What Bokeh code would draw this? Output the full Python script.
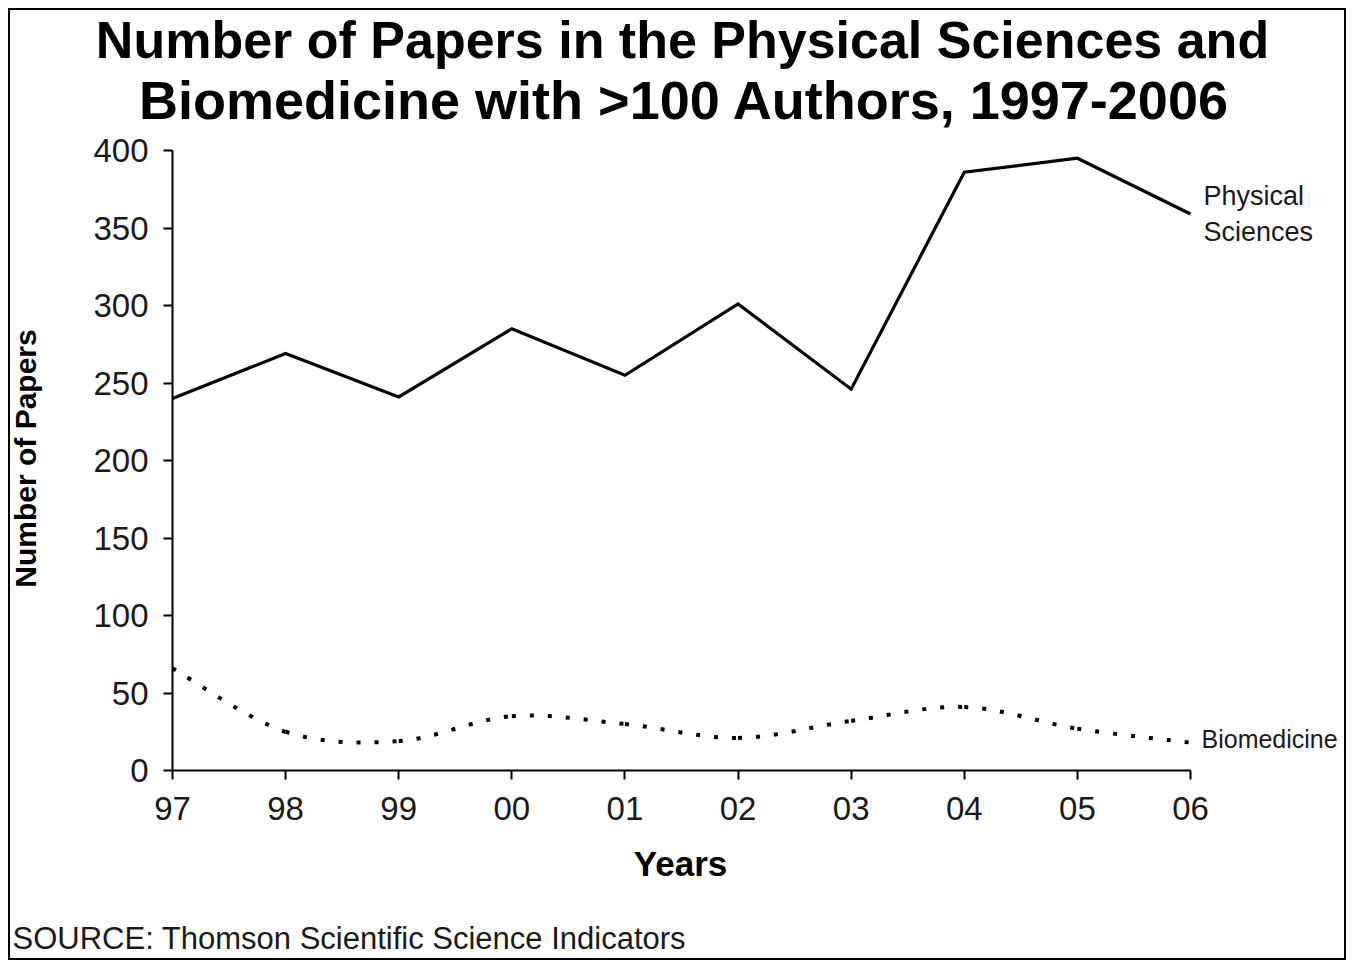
import math
import numpy as np
from bokeh.plotting import figure
from bokeh.models import Range1d, FixedTicker, Label
from bokeh.core.properties import value
from bokeh.embed import file_html
from bokeh.resources import INLINE

# ---- data ----
years = [1997, 1998, 1999, 2000, 2001, 2002, 2003, 2004, 2005, 2006]
year_labels = ["97", "98", "99", "00", "01", "02", "03", "04", "05", "06"]
physical = [240, 269, 241, 285, 255, 301, 246, 386, 395, 359]
biomedicine = [66, 25, 19, 35, 30, 21, 32, 41, 27, 18]
y_ticks = [0, 50, 100, 150, 200, 250, 300, 350, 400]

title_line1 = "Number of Papers in the Physical Sciences and"
title_line2 = "Biomedicine with >100 Authors, 1997-2006"
source_text = "SOURCE: Thomson Scientific Science Indicators"
x_title = "Years"
y_title = "Number of Papers"

FONT = "Liberation Sans"
TXT = "#1a1a1a"

# ---- layout geometry (page pixels) ----
CANVAS_X0, CANVAS_Y0 = 10, 10          # canvas origin on the page (inside the 2px frame)
CW, CH = 1338, 952                     # figure size (canvas drawn at this size)
AX_X, AX_Y = 172, 770                  # page position of (1997, 0)
PX_YEAR = (1190 - 172) / 9.0           # pixels per year
PX_UNIT = (770 - 150) / 400.0          # pixels per paper


def dx(px):
    return years[0] + (px - AX_X) / PX_YEAR


def dy(py):
    return (AX_Y - py) / PX_UNIT


p = figure(width=CW, height=CH, output_backend="svg", toolbar_location=None, title=None,
           x_range=Range1d(dx(CANVAS_X0), dx(CANVAS_X0 + CW)),
           y_range=Range1d(dy(CANVAS_Y0 + CH), dy(CANVAS_Y0)),
           min_border_left=0, min_border_right=0, min_border_top=0, min_border_bottom=0,
           styles={"border": "2px solid black", "margin-left": "8px", "margin-top": "8px"})
p.outline_line_color = None
p.grid.visible = False
p.background_fill_color = "white"
p.border_fill_color = "white"

# axes drawn at fixed data locations inside the full-canvas frame
for ax in (p.xaxis[0], p.yaxis[0]):
    ax.axis_line_width = 2
    ax.axis_line_color = "black"
    ax.major_tick_line_width = 2
    ax.major_tick_line_color = "black"
    ax.major_tick_out = 9
    ax.major_tick_in = 0
    ax.minor_tick_line_color = None
    ax.major_label_text_font = FONT
    ax.major_label_text_color = TXT
    ax.major_label_text_font_size = "33px"

p.xaxis.fixed_location = 0
p.xaxis.bounds = (years[0], years[-1])
p.xaxis.ticker = FixedTicker(ticks=years)
p.xaxis.major_label_overrides = {y: l for y, l in zip(years, year_labels)}
p.xaxis.major_label_standoff = 17

p.yaxis.fixed_location = years[0]
p.yaxis.bounds = (0, 400)
p.yaxis.ticker = FixedTicker(ticks=y_ticks)
p.yaxis.major_label_standoff = 15

# physical sciences: solid line
p.line(years, physical, line_color="black", line_width=3.2, line_join="miter")

# biomedicine: smooth dotted curve through the data points (Catmull-Rom beziers)
bx = np.array(years, dtype=float)
by = np.array(biomedicine, dtype=float)
px_ = np.concatenate([[bx[0]], bx, [bx[-1]]])
py_ = np.concatenate([[by[0]], by, [by[-1]]])
x0, y0 = bx[:-1], by[:-1]
x1, y1 = bx[1:], by[1:]
cx0 = x0 + (px_[2:-1] - px_[:-3]) / 6.0
cy0 = y0 + (py_[2:-1] - py_[:-3]) / 6.0
cx1 = x1 - (px_[3:] - px_[1:-2]) / 6.0
cy1 = y1 - (py_[3:] - py_[1:-2]) / 6.0
p.bezier(x0=x0, y0=y0, x1=x1, y1=y1, cx0=cx0, cy0=cy0, cx1=cx1, cy1=cy1,
         line_color="black", line_width=4, line_dash="4 14")

# series labels
p.text(x=[years[-1]], y=[physical[-1]], text=["Physical\nSciences"],
       text_font=value(FONT), text_font_size="27px", text_color=TXT,
       text_baseline="top", text_align="left", x_offset=13, y_offset=-33,
       text_line_height=1.2)
p.text(x=[years[-1]], y=[biomedicine[-1]], text=["Biomedicine"],
       text_font=value(FONT), text_font_size="25px", text_color=TXT,
       text_baseline="middle", text_align="left", x_offset=11, y_offset=-4)


def label(txt, px, py, size, bold=False, align="left", baseline="alphabetic", angle=0.0, color=TXT):
    p.add_layout(Label(x=dx(px), y=dy(py), text=txt, text_font=FONT,
                       text_font_style="bold" if bold else "normal",
                       text_font_size=f"{size}px", text_align=align, text_baseline=baseline,
                       angle=angle, text_color=color))


# titles, axis titles, source (anchor positions in page pixels)
label(title_line1, 682, 39, 52, bold=True, align="center", color="black")
label(title_line2, 684, 99, 54, bold=True, align="center", color="black")
label(x_title, 680, 863, 35, bold=True, align="center", baseline="middle", color="black")
label(y_title, 25, 458, 30, bold=True, align="center", baseline="middle",
      angle=math.pi / 2, color="black")
label(source_text, 12, 938, 31)

open("out.html", "w").write(file_html(p, INLINE))
